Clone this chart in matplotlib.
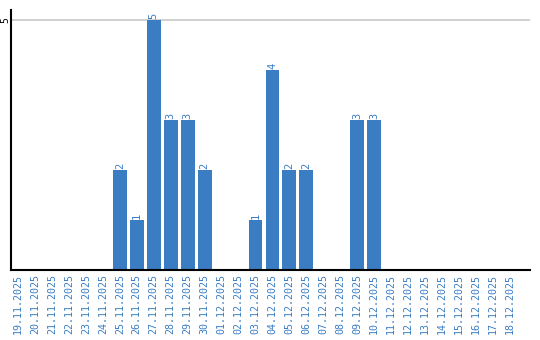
import matplotlib
matplotlib.use("Agg")
import matplotlib.pyplot as plt
import numpy as np

dates = ["19.11.2025", "20.11.2025", "21.11.2025", "22.11.2025", "23.11.2025",
         "24.11.2025", "25.11.2025", "26.11.2025", "27.11.2025", "28.11.2025",
         "29.11.2025", "30.11.2025", "01.12.2025", "02.12.2025", "03.12.2025",
         "04.12.2025", "05.12.2025", "06.12.2025", "07.12.2025", "08.12.2025",
         "09.12.2025", "10.12.2025", "11.12.2025", "12.12.2025", "13.12.2025",
         "14.12.2025", "15.12.2025", "16.12.2025", "17.12.2025", "18.12.2025"]
counts = [0, 0, 0, 0, 0, 0, 2, 1, 5, 3, 3, 2, 0, 0, 1,
          4, 2, 2, 0, 0, 3, 3, 0, 0, 0, 0, 0, 0, 0, 0]

blue = "#3a7dc2"
fig = plt.figure(figsize=(5.4, 3.4), dpi=100)
ax = fig.add_axes([0.0198, 0.206, 0.9617, 0.7646])

x = np.arange(len(dates))
bars = ax.bar(x, counts, width=0.82, color=blue, zorder=2)

# value labels above non-empty bars
for xi, v in zip(x, counts):
    if v > 0:
        ax.annotate(str(v), (xi, v), xytext=(0, 1), textcoords="offset points",
                    ha="center", va="bottom", rotation=90, color=blue,
                    fontsize=7.5, family="DejaVu Sans Mono")

ax.set_xlim(-0.43, 30.18)
ax.set_ylim(0, 5.2)
ax.set_xticks(x)
ax.set_xticklabels(dates, rotation=90, color=blue, fontsize=7.2,
                   family="DejaVu Sans Mono")
ax.set_yticks([5])
ax.set_yticklabels(["5"], rotation=90, va="center", fontsize=7,
                   family="DejaVu Sans Mono")
ax.tick_params(length=0, pad=3)
ax.tick_params(axis="y", pad=0.5)
ax.yaxis.grid(True, color="#c8c8c8", lw=1.2, zorder=1)

for s in ["top", "right"]:
    ax.spines[s].set_visible(False)
for s in ["left", "bottom"]:
    ax.spines[s].set_linewidth(1.5)
    ax.spines[s].set_zorder(3)

fig.savefig("out.png", dpi=100)
